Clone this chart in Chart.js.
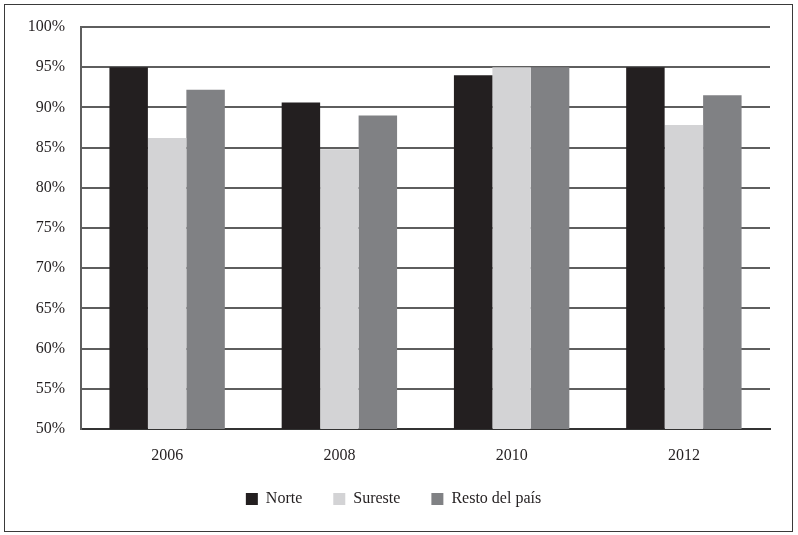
<!DOCTYPE html>
<html>
<head>
<meta charset="utf-8">
<script src="https://cdn.jsdelivr.net/npm/chart.js@4"></script>
<style>
  html, body { margin: 0; padding: 0; background: #fff; }
  #wrap { width: 798px; height: 535px; position: relative; }
</style>
</head>
<body>
<div id="wrap"><canvas id="c" width="798" height="535"></canvas></div>
<script>
const categories = ['2006', '2008', '2010', '2012'];
const norte   = [95, 90.6, 94.0, 95];
const sureste = [86.2, 84.8, 95, 87.8];
const resto   = [92.2, 89.0, 95, 91.5];
const seriesNames = ['Norte', 'Sureste', 'Resto del país'];
const yMin = 50, yMax = 100, yStep = 5;

const FONT = "'Liberation Serif', 'DejaVu Serif', serif";
const TEXT = '#231f20';

const framePlugin = {
  id: 'frame',
  beforeDraw(chart) {
    const ctx = chart.ctx;
    ctx.save();
    ctx.fillStyle = '#ffffff';
    ctx.fillRect(0, 0, chart.width, chart.height);
    ctx.restore();
  },
  afterDraw(chart) {
    const ctx = chart.ctx;
    ctx.save();
    ctx.strokeStyle = '#3a3a3a';
    ctx.lineWidth = 1;
    ctx.strokeRect(4.5, 4.5, 788, 527);
    ctx.restore();
  }
};

const legendPlacePlugin = {
  id: 'legendPlace',
  beforeInit(chart) {
    const orig = chart.legend.fit;
    chart.legend.fit = function () {
      orig.call(this);
      this.height = 64;
    };
  },
  afterLayout(chart) {
    const lg = chart.legend;
    lg.top -= 11;
    lg.bottom -= 11;
  }
};

new Chart(document.getElementById('c'), {
  type: 'bar',
  data: {
    labels: categories,
    datasets: [
      { label: seriesNames[0], data: norte,   backgroundColor: '#231f20' },
      { label: seriesNames[1], data: sureste, backgroundColor: '#d3d3d5' },
      { label: seriesNames[2], data: resto,   backgroundColor: '#808184' }
    ]
  },
  options: {
    responsive: false,
    animation: false,
    layout: { padding: { top: 27, right: 28, left: 17, bottom: 0 } },
    datasets: { bar: { categoryPercentage: 0.67, barPercentage: 1.0, borderWidth: 0 } },
    plugins: {
      legend: {
        position: 'bottom',
        labels: {
          boxWidth: 12, boxHeight: 12, padding: 31,
          color: TEXT,
          font: { family: FONT, size: 16 }
        }
      },
      tooltip: { enabled: false },
      title: { display: false }
    },
    scales: {
      x: {
        grid: { display: false, drawTicks: false },
        border: { display: true, color: '#333333', width: 2 },
        ticks: { color: TEXT, font: { family: FONT, size: 16 }, padding: 17 },
        afterFit(scale) { scale.height = 42; }
      },
      y: {
        min: yMin, max: yMax,
        grid: { color: '#5e5e5e', lineWidth: 2, drawTicks: false },
        border: { display: true, color: '#5e5e5e', width: 2 },
        ticks: {
          stepSize: yStep,
          color: TEXT,
          font: { family: FONT, size: 16 },
          padding: 16,
          callback: v => v + '%'
        },
        afterFit(scale) { scale.width = 64; }
      }
    }
  },
  plugins: [framePlugin, legendPlacePlugin]
});
</script>
</body>
</html>
